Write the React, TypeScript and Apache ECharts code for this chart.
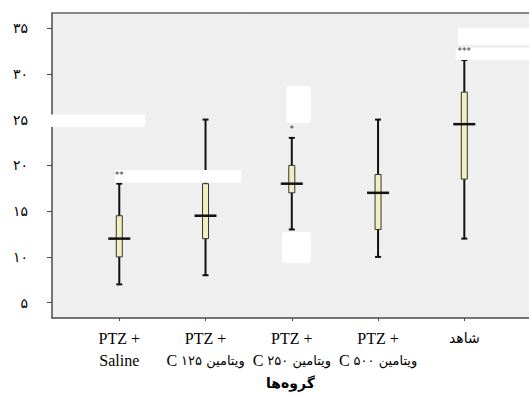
import React, { useEffect, useRef } from "react";
import * as echarts from "echarts";

// ---- data ----
const groupPos = [1, 2, 3, 4, 5];
const labelTop = ["PTZ +", "PTZ +", "PTZ +", "PTZ +", "شاهد"];
const labelLatin = ["Saline", "C", "C", "C", ""];
const labelFa = ["", "۱۲۵ ویتامین", "۲۵۰ ویتامین", "۵۰۰ ویتامین", ""];
const whiskerLow = [7, 8, 13, 10, 12];
const q1 = [10, 12, 17, 13, 18.5];
const median = [12, 14.5, 18, 17, 24.5];
const q3 = [14.5, 18, 20, 19, 28];
const whiskerHigh = [18, 25, 23, 25, 31.5];
const significance = ["**", "", "*", "", "***"];
const yTicks = [5, 10, 15, 20, 25, 30, 35];
const yTickLabels = ["۵", "۱۰", "۱۵", "۲۰", "۲۵", "۳۰", "۳۵"];
const axisTitle = "گروه‌ها";

const SERIF = "Liberation Serif";
const SANS = "DejaVu Sans";

export default function App() {
  const ref = useRef<HTMLDivElement>(null);

  useEffect(() => {
    if (!ref.current) return;
    const chart = echarts.init(ref.current, null, { renderer: "svg" });
    const ink = "#111";
    const axisColor = "#4a4a4a";

    const boxData = groupPos.map((x, i) => [x, whiskerLow[i], q1[i], median[i], q3[i], whiskerHigh[i]]);
    const sigData = groupPos.map((x, i) => [x, whiskerHigh[i]]);

    const option: any = {
      animation: false,
      grid: {
        left: 52,
        right: 0,
        top: 13,
        bottom: 78,
        show: true,
        backgroundColor: "#efefef",
        borderWidth: 0,
      },
      xAxis: [
        {
          type: "value",
          min: 0.22,
          max: 5.75,
          position: "bottom",
          splitLine: { show: false },
          axisLine: { show: true, onZero: false, lineStyle: { color: axisColor, width: 1.5 } },
          axisTick: { show: true, length: 3, customValues: groupPos, lineStyle: { color: axisColor } },
          axisLabel: {
            show: true,
            customValues: groupPos,
            margin: 9,
            lineHeight: 22,
            fontFamily: SERIF,
            fontSize: 16,
            color: "#000",
            formatter: (v: number) => {
              const i = Math.round(v) - 1;
              if (i < 0 || i >= groupPos.length) return "";
              const top = i === 4 ? `{fa1|${labelTop[i]}}` : `{lat|${labelTop[i]}}`;
              let second = "";
              if (labelLatin[i] && labelFa[i]) second = `\n{lat|${labelLatin[i]}} {fa|${labelFa[i]}}`;
              else if (labelLatin[i]) second = `\n{lat|${labelLatin[i]}}`;
              return top + second;
            },
            rich: {
              lat: { fontFamily: SERIF, fontSize: 16, fontWeight: "normal", lineHeight: 22, color: "#000" },
              fa: { fontFamily: SANS, fontSize: 13, fontWeight: "normal", lineHeight: 22, color: "#000" },
              fa1: { fontFamily: SANS, fontSize: 14, fontWeight: "normal", lineHeight: 22, color: "#000" },
            },
          },
          name: axisTitle,
          nameLocation: "middle",
          nameGap: 57,
          nameTextStyle: { fontFamily: SANS, fontSize: 14, fontWeight: "bold", color: "#000" },
        },
        {
          type: "value",
          min: 0.22,
          max: 5.75,
          position: "top",
          splitLine: { show: false },
          axisLine: { show: true, onZero: false, lineStyle: { color: "#666", width: 1.5 } },
          axisTick: { show: false },
          axisLabel: { show: false },
        },
      ],
      yAxis: {
        type: "value",
        min: 3.33,
        max: 36.64,
        splitLine: { show: false },
        axisLine: { show: true, onZero: false, lineStyle: { color: axisColor, width: 1.5 } },
        axisTick: { show: true, length: 5, customValues: yTicks, lineStyle: { color: axisColor } },
        axisLabel: {
          customValues: yTicks,
          margin: 24,
          fontFamily: SANS,
          fontSize: 14,
          color: "#000",
          formatter: (v: number) => {
            const k = yTicks.indexOf(Math.round(v));
            return k >= 0 ? yTickLabels[k] : "";
          },
        },
      },
      graphic: {
        elements: [
          { type: "rect", z: 10, shape: { x: 44, y: 114.5, width: 101, height: 12.5 }, style: { fill: "#fff" } },
          { type: "rect", z: 10, shape: { x: 115, y: 170, width: 126, height: 12.7 }, style: { fill: "#fff" } },
          { type: "rect", z: 10, shape: { x: 286, y: 86, width: 25, height: 37, r: 4 }, style: { fill: "#fff" } },
          { type: "rect", z: 10, shape: { x: 282, y: 232, width: 29, height: 31, r: 4 }, style: { fill: "#fff" } },
          { type: "rect", z: 10, shape: { x: 458, y: 28, width: 71, height: 17 }, style: { fill: "#fff" } },
          { type: "rect", z: 10, shape: { x: 455.7, y: 47.7, width: 74, height: 12.3 }, style: { fill: "#fff" } },
        ],
      },
      series: [
        {
          type: "custom",
          z: 2,
          data: boxData,
          encode: { x: 0, y: [1, 2, 3, 4, 5] },
          renderItem: (params: any, api: any) => {
            const x = api.value(0);
            const lo = api.coord([x, api.value(1)]);
            const b1 = api.coord([x, api.value(2)]);
            const md = api.coord([x, api.value(3)]);
            const b3 = api.coord([x, api.value(4)]);
            const hi = api.coord([x, api.value(5)]);
            const cx = lo[0];
            return {
              type: "group",
              children: [
                { type: "line", shape: { x1: cx, y1: hi[1], x2: cx, y2: lo[1] }, style: { stroke: ink, lineWidth: 2 } },
                { type: "line", shape: { x1: cx - 3, y1: hi[1], x2: cx + 3, y2: hi[1] }, style: { stroke: ink, lineWidth: 2 } },
                { type: "line", shape: { x1: cx - 3, y1: lo[1], x2: cx + 3, y2: lo[1] }, style: { stroke: ink, lineWidth: 2 } },
                {
                  type: "rect",
                  shape: { x: cx - 3, y: b3[1], width: 6, height: b1[1] - b3[1] },
                  style: { fill: "#f2eebe", stroke: "#333", lineWidth: 1 },
                },
                { type: "line", shape: { x1: cx - 11, y1: md[1], x2: cx + 11, y2: md[1] }, style: { stroke: ink, lineWidth: 2.5 } },
              ],
            };
          },
        },
        {
          type: "custom",
          z: 20,
          data: sigData,
          encode: { x: 0, y: 1 },
          renderItem: (params: any, api: any) => {
            const s = significance[params.dataIndex];
            if (!s) return null;
            const p = api.coord([api.value(0), api.value(1)]);
            return {
              type: "text",
              x: p[0],
              y: p[1] - 9,
              style: {
                text: s,
                align: "center",
                verticalAlign: "middle",
                fontSize: 9,
                fontFamily: SANS,
                fill: "#333",
              },
            };
          },
        },
      ],
    };

    chart.setOption(option);
    return () => chart.dispose();
  }, []);

  return (
    <div
      ref={ref}
      style={{ position: "absolute", left: 0, top: 0, width: 529, height: 396 }}
    />
  );
}
